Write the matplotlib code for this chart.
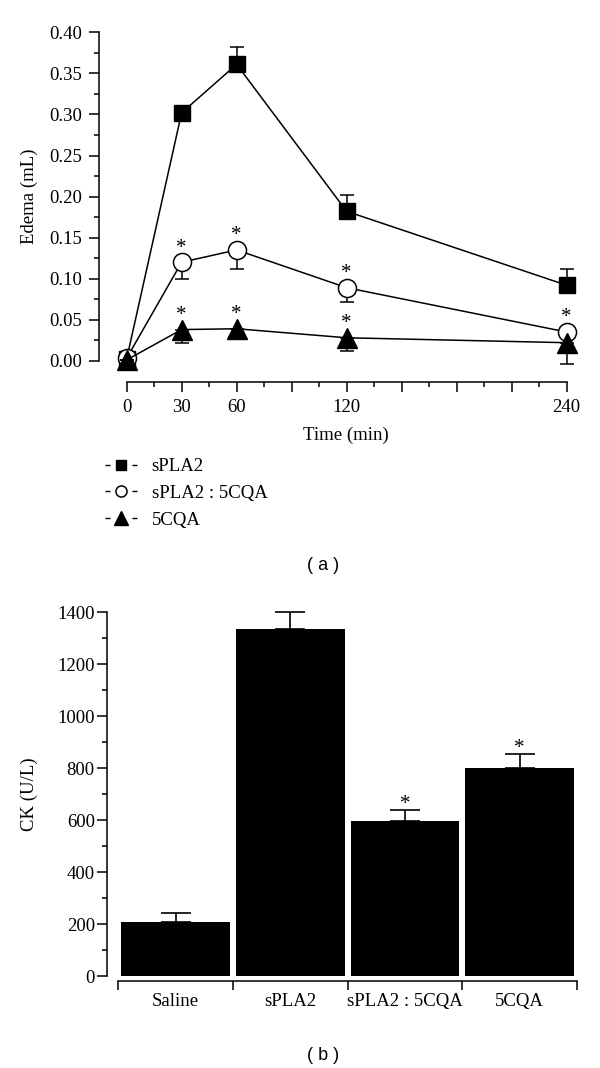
"""Edema time course (a) and CK activity (b) for sPLA2 / 5CQA treatments."""

import numpy as np
from matplotlib import pyplot as plt
from matplotlib.lines import Line2D
import matplotlib.ticker as tck

plt.rcParams['font.family'] = ['Liberation Serif', 'DejaVu Serif']

# panel (a): paw edema over time
time_min = [0, 30, 60, 120, 240]
edema_spla2 = [0.002, 0.302, 0.361, 0.182, 0.092]
err_spla2 = [0.0, 0.0, 0.021, 0.020, 0.020]
edema_mix = [0.003, 0.120, 0.135, 0.089, 0.035]
err_mix = [0.0, 0.020, 0.023, 0.018, 0.0]
edema_cqa = [0.001, 0.038, 0.039, 0.028, 0.022]
err_cqa = [0.0, 0.016, 0.013, 0.016, 0.026]
star_mix = [False, True, True, True, True]
star_cqa = [False, True, True, True, False]
series_names = ['sPLA2', 'sPLA2 : 5CQA', '5CQA']
time_ticks = [0, 30, 60, 90, 120, 150, 180, 210, 240]
time_labels = ['0', '30', '60', '', '120', '', '', '', '240']

# panel (b): CK activity
groups = ['Saline', 'sPLA2', 'sPLA2 : 5CQA', '5CQA']
ck = [207, 1333, 596, 799]
ck_err = [34, 68, 42, 56]
ck_star = [False, False, True, True]

fig = plt.figure(figsize=(6, 10.68), dpi=100)

def style_axes(ax, major_len=7.2, minor_len=3.6):
    for side in ['top', 'right']:
        ax.spines[side].set_visible(False)
    for side in ['left', 'bottom']:
        ax.spines[side].set_linewidth(1.1)
    ax.tick_params(which='major', direction='out', length=major_len, width=1.1,
                   labelsize=13.5, colors='k')
    ax.tick_params(which='minor', direction='out', length=minor_len, width=1.1)

def add_stars(ax, xs, ys, flags, dy):
    for x, y, f in zip(xs, ys, flags):
        if f:
            ax.annotate('*', (x, y), xytext=(0, dy), textcoords='offset points',
                        ha='center', va='baseline', fontsize=15)

# ---- panel (a)
ax1 = fig.add_axes([0.1655, 0.6426, 0.8095, 0.3348])
style_axes(ax1)
zeros = np.zeros(len(time_min))

ax1.errorbar(time_min, edema_spla2, yerr=[zeros, err_spla2], fmt='none', ecolor='k',
             elinewidth=1.1, capsize=4.8, capthick=1.1, zorder=2)
ax1.plot(time_min, edema_spla2, '-', color='k', lw=1.1, marker='s', ms=12,
         mfc='k', mec='k', zorder=3)
ax1.errorbar(time_min, edema_mix, yerr=[err_mix, zeros], fmt='none', ecolor='k',
             elinewidth=1.1, capsize=4.8, capthick=1.1, zorder=4)
ax1.plot(time_min, edema_mix, '-', color='k', lw=1.1, marker='o', ms=13,
         mfc='white', mec='k', mew=1.1, zorder=5)
ax1.errorbar(time_min, edema_cqa, yerr=[err_cqa, zeros], fmt='none', ecolor='k',
             elinewidth=1.1, capsize=4.8, capthick=1.1, zorder=6)
ax1.plot(time_min, edema_cqa, '-', color='k', lw=1.1, marker='^', ms=14.4,
         mfc='k', mec='k', zorder=7)

add_stars(ax1, time_min, edema_mix, star_mix, 7.0)
add_stars(ax1, time_min, edema_cqa, star_cqa, 7.0)

ax1.set_xlim(-14.9, 250)
ax1.set_ylim(-0.0255, 0.41)
ax1.spines['left'].set_bounds(0, 0.4)
ax1.spines['bottom'].set_bounds(0, 240)
ax1.set_xticks(time_ticks)
ax1.set_xticklabels(time_labels)
ax1.xaxis.set_minor_locator(tck.FixedLocator(np.arange(15, 240, 30)))
ax1.yaxis.set_major_locator(tck.FixedLocator(np.linspace(0, 0.4, 9)))
ax1.yaxis.set_minor_locator(tck.FixedLocator(np.linspace(0.025, 0.375, 8)))
ax1.yaxis.set_major_formatter(tck.FormatStrFormatter('%.2f'))
ax1.tick_params(axis='x', which='major', pad=5)
ax1.tick_params(axis='y', which='major', pad=5.5)
ax1.set_ylim(-0.0255, 0.41)

ax1.set_xlabel('Time (min)', fontsize=13.5)
ax1.set_ylabel('Edema (mL)', fontsize=13.5)
ax1.xaxis.set_label_coords(0.508, -0.126)
ax1.yaxis.set_label_coords(-0.126, 0.519)

# legend with "-marker-" handles
dash = (0, (3.6, 15.8))
handles = [
    Line2D([], [], color='k', lw=1.0, ls=dash, marker='s', ms=7, mfc='k', mec='k'),
    Line2D([], [], color='k', lw=1.0, ls=dash, marker='o', ms=8, mfc='white', mec='k',
           mew=1.1),
    Line2D([], [], color='k', lw=1.0, ls=dash, marker='^', ms=9.5, mfc='k', mec='k'),
]
fig.legend(handles, series_names, loc='upper left', bbox_to_anchor=(0.175, 1 - 458 / 1068),
           bbox_transform=fig.transFigure, frameon=False, fontsize=13.5, handlelength=1.7,
           handletextpad=0.78, labelspacing=0.52, borderpad=0, borderaxespad=0)

fig.text(323 / 600, 1 - 566 / 1068, '( a )', ha='center', va='center',
         family='Liberation Sans', fontsize=13)

# ---- panel (b)
ax2 = fig.add_axes([0.1778, 0.0817, 0.803, 0.3574])
style_axes(ax2, major_len=7.5)
xpos = np.arange(len(groups))
ax2.bar(xpos, ck, width=0.95, color='k', edgecolor='k', linewidth=0, zorder=2)
ax2.errorbar(xpos, ck, yerr=[np.zeros(len(ck)), ck_err], fmt='none', ecolor='k',
             elinewidth=1.2, capsize=11, capthick=1.2, zorder=3)
add_stars(ax2, xpos, np.array(ck) + np.array(ck_err), ck_star, 0.5)

ax2.set_xlim(-0.601, 3.6)
ax2.set_ylim(-18, 1450)
ax2.spines['left'].set_bounds(0, 1400)
ax2.spines['bottom'].set_bounds(-0.5, 3.5)
ax2.set_xticks(np.arange(-0.5, len(groups), 1.0))
ax2.set_xticklabels([])
ax2.set_xticks(xpos, minor=True)
ax2.set_xticklabels(groups, minor=True)
ax2.tick_params(axis='x', which='major', length=6.3)
ax2.tick_params(axis='x', which='minor', length=0, pad=9, labelsize=13.5)
ax2.yaxis.set_major_locator(tck.FixedLocator(np.arange(0, 1401, 200)))
ax2.yaxis.set_minor_locator(tck.FixedLocator(np.arange(100, 1400, 200)))
ax2.tick_params(axis='y', which='major', pad=1)
ax2.set_ylabel('CK (U/L)', fontsize=13.5)
ax2.yaxis.set_label_coords(-0.143, 0.489)

fig.text(323 / 600, 1 - 1055 / 1068, '( b )', ha='center', va='center',
         family='Liberation Sans', fontsize=13)

fig.savefig('out.png', dpi=100)
